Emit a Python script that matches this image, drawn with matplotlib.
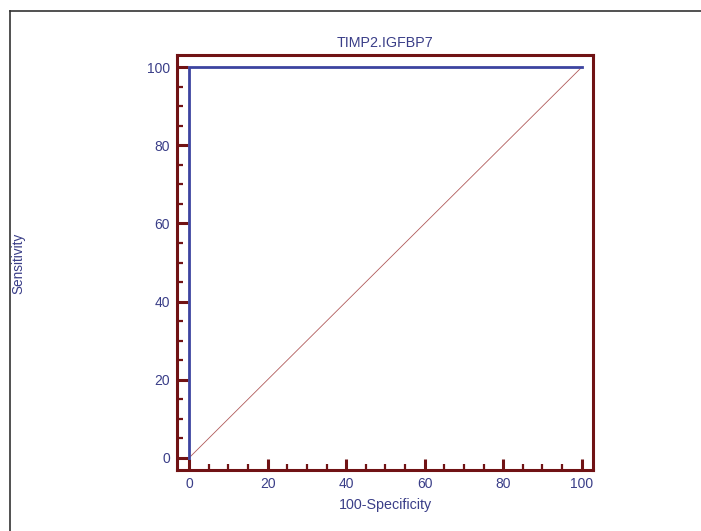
import matplotlib
matplotlib.use("Agg")
import matplotlib.pyplot as plt
from matplotlib.ticker import MultipleLocator
from matplotlib.lines import Line2D

# Data
roc_fpr = [0, 0, 100]
roc_tpr = [0, 100, 100]
diag_x = [0, 100]
diag_y = [0, 100]
title = "TIMP2.IGFBP7"
xlabel = "100-Specificity"
ylabel = "Sensitivity"
major_ticks = [0, 20, 40, 60, 80, 100]

plt.rcParams['font.family'] = ['Liberation Sans', 'DejaVu Sans']

W, H = 701, 531
fig = plt.figure(figsize=(W/100, H/100), dpi=100)
ax = fig.add_axes([176.7/W, 1-470/H, (593-176.7)/W, (470-55)/H])

maroon = "#701214"
blue = "#3c44a0"
txt = "#3a3e88"

ax.plot(diag_x, diag_y, color="#b05a5a", lw=0.6, zorder=2)
ax.plot(roc_fpr, roc_tpr, color=blue, lw=2.0, zorder=3, solid_joinstyle='miter')

ax.set_xlim(-3.2, 102.9)
ax.set_ylim(-3.15, 103.15)
ax.set_xticks(major_ticks)
ax.set_yticks(major_ticks)
ax.xaxis.set_minor_locator(MultipleLocator(5))
ax.yaxis.set_minor_locator(MultipleLocator(5))

for s in ax.spines.values():
    s.set_color(maroon)
    s.set_linewidth(2.2)

ax.tick_params(which='major', direction='in', length=8, width=2.2, color=maroon,
               labelcolor=txt, labelsize=10, pad=5, top=False, right=False)
ax.tick_params(which='minor', direction='in', length=4.5, width=1.6, color=maroon,
               top=False, right=False)

ax.set_title(title, color=txt, fontsize=10.3, pad=6)
fig.text(385/W, 1-505/H, xlabel, color=txt, fontsize=10.3, ha='center', va='center')
fig.text(18/W, 1-263/H, ylabel, color=txt, fontsize=9.8, ha='center', va='center', rotation=90)

# partial outer frame (top and left)
fig.add_artist(Line2D([9.5/W, 1], [1-10.5/H, 1-10.5/H], transform=fig.transFigure, color="#333333", lw=1.2))
fig.add_artist(Line2D([9.5/W, 9.5/W], [0, 1-10.5/H], transform=fig.transFigure, color="#333333", lw=1.2))

fig.savefig("out.png", dpi=100)
